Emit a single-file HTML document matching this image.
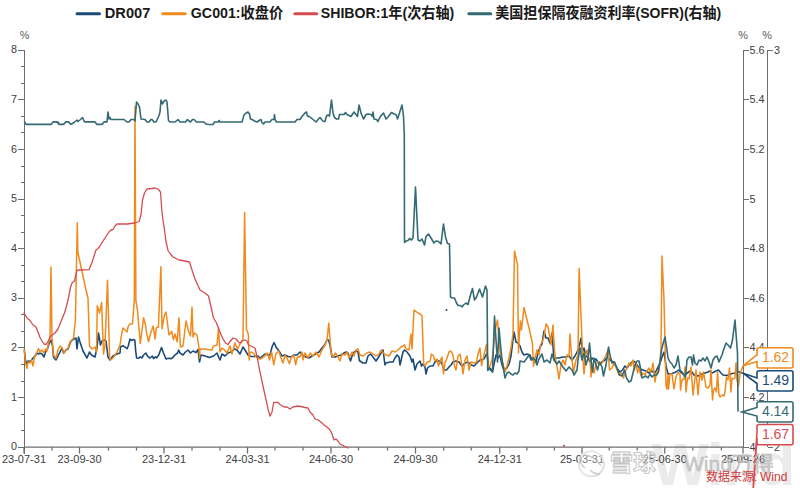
<!DOCTYPE html><html><head><meta charset="utf-8"><style>
html,body{margin:0;padding:0;background:#fff;width:800px;height:488px;overflow:hidden}
svg{position:absolute;left:0;top:0;display:block}
text{font-family:"Liberation Sans","Noto Sans CJK SC",sans-serif}
.ax{font-size:10.8px;fill:#404040}
.lg{font-size:15px;font-weight:bold;fill:#1a1a1a}
.cl{font-size:14px}
</style></head><body>
<svg width="800" height="488" viewBox="0 0 800 488">
<rect width="800" height="488" fill="#fff"/>
<text x="652" y="485" font-size="60" font-weight="bold" fill="#ebebeb" style="font-family:'Liberation Sans',sans-serif;letter-spacing:-1px">Wind</text>
<line x1="77.0" y1="13.8" x2="99.5" y2="13.8" stroke="#1a4b78" stroke-width="3" stroke-linecap="round"/>
<text class="lg" x="104.8" y="17.7" textLength="45.5" lengthAdjust="spacingAndGlyphs">DR007</text>
<line x1="162.8" y1="13.8" x2="185.2" y2="13.8" stroke="#f08a1c" stroke-width="3" stroke-linecap="round"/>
<text class="lg" x="190.8" y="17.7" textLength="92.5" lengthAdjust="spacingAndGlyphs">GC001:收盘价</text>
<line x1="294.8" y1="13.8" x2="316.7" y2="13.8" stroke="#d64c4e" stroke-width="3" stroke-linecap="round"/>
<text class="lg" x="320.8" y="17.7" textLength="133.5" lengthAdjust="spacingAndGlyphs">SHIBOR:1年(次右轴)</text>
<line x1="468.8" y1="13.8" x2="490.7" y2="13.8" stroke="#346a73" stroke-width="3" stroke-linecap="round"/>
<text class="lg" x="495.3" y="17.7" textLength="226" lengthAdjust="spacingAndGlyphs">美国担保隔夜融资利率(SOFR)(右轴)</text>
<text class="ax" x="24.5" y="39" text-anchor="middle" style="fill:#5a5a5a">%</text>
<text class="ax" x="743" y="39" text-anchor="middle" style="fill:#5a5a5a">%</text>
<text class="ax" x="767" y="39" text-anchor="middle" style="fill:#5a5a5a">%</text>
<g stroke="#6e6e6e" stroke-width="1" fill="none" shape-rendering="crispEdges">
<line x1="24" y1="50.2" x2="24" y2="453.5"/>
<line x1="17.5" y1="447.2" x2="24" y2="447.2"/>
<line x1="20.5" y1="430.7" x2="24" y2="430.7"/>
<line x1="20.5" y1="414.1" x2="24" y2="414.1"/>
<line x1="17.5" y1="397.6" x2="24" y2="397.6"/>
<line x1="20.5" y1="381.0" x2="24" y2="381.0"/>
<line x1="20.5" y1="364.5" x2="24" y2="364.5"/>
<line x1="17.5" y1="347.9" x2="24" y2="347.9"/>
<line x1="20.5" y1="331.4" x2="24" y2="331.4"/>
<line x1="20.5" y1="314.9" x2="24" y2="314.9"/>
<line x1="17.5" y1="298.3" x2="24" y2="298.3"/>
<line x1="20.5" y1="281.8" x2="24" y2="281.8"/>
<line x1="20.5" y1="265.2" x2="24" y2="265.2"/>
<line x1="17.5" y1="248.7" x2="24" y2="248.7"/>
<line x1="20.5" y1="232.2" x2="24" y2="232.2"/>
<line x1="20.5" y1="215.6" x2="24" y2="215.6"/>
<line x1="17.5" y1="199.1" x2="24" y2="199.1"/>
<line x1="20.5" y1="182.5" x2="24" y2="182.5"/>
<line x1="20.5" y1="166.0" x2="24" y2="166.0"/>
<line x1="17.5" y1="149.4" x2="24" y2="149.4"/>
<line x1="20.5" y1="132.9" x2="24" y2="132.9"/>
<line x1="20.5" y1="116.4" x2="24" y2="116.4"/>
<line x1="17.5" y1="99.8" x2="24" y2="99.8"/>
<line x1="20.5" y1="83.3" x2="24" y2="83.3"/>
<line x1="20.5" y1="66.7" x2="24" y2="66.7"/>
<line x1="17.5" y1="50.2" x2="24" y2="50.2"/>
</g>
<text class="ax" x="17" y="450.3" text-anchor="end">0</text>
<text class="ax" x="17" y="400.7" text-anchor="end">1</text>
<text class="ax" x="17" y="351.1" text-anchor="end">2</text>
<text class="ax" x="17" y="301.4" text-anchor="end">3</text>
<text class="ax" x="17" y="251.8" text-anchor="end">4</text>
<text class="ax" x="17" y="202.2" text-anchor="end">5</text>
<text class="ax" x="17" y="152.5" text-anchor="end">6</text>
<text class="ax" x="17" y="102.9" text-anchor="end">7</text>
<text class="ax" x="17" y="53.3" text-anchor="end">8</text>
<g stroke="#6e6e6e" stroke-width="1.3" fill="none">
<line x1="24" y1="447.2" x2="743.5" y2="447.2"/>
<line x1="24" y1="447.2" x2="24" y2="453.5"/>
<line x1="79.5" y1="447.2" x2="79.5" y2="453.5"/>
<line x1="164" y1="447.2" x2="164" y2="453.5"/>
<line x1="247.5" y1="447.2" x2="247.5" y2="453.5"/>
<line x1="331" y1="447.2" x2="331" y2="453.5"/>
<line x1="415.5" y1="447.2" x2="415.5" y2="453.5"/>
<line x1="499.75" y1="447.2" x2="499.75" y2="453.5"/>
<line x1="582" y1="447.2" x2="582" y2="453.5"/>
<line x1="664.75" y1="447.2" x2="664.75" y2="453.5"/>
<line x1="743" y1="447.2" x2="743" y2="453.5"/>
<line x1="52" y1="447.2" x2="52" y2="450.5"/>
<line x1="108.5" y1="447.2" x2="108.5" y2="450.5"/>
<line x1="136.5" y1="447.2" x2="136.5" y2="450.5"/>
<line x1="192" y1="447.2" x2="192" y2="450.5"/>
<line x1="220" y1="447.2" x2="220" y2="450.5"/>
<line x1="275" y1="447.2" x2="275" y2="450.5"/>
<line x1="303" y1="447.2" x2="303" y2="450.5"/>
<line x1="358.5" y1="447.2" x2="358.5" y2="450.5"/>
<line x1="387.5" y1="447.2" x2="387.5" y2="450.5"/>
<line x1="443.75" y1="447.2" x2="443.75" y2="450.5"/>
<line x1="471.25" y1="447.2" x2="471.25" y2="450.5"/>
<line x1="526.9" y1="447.2" x2="526.9" y2="450.5"/>
<line x1="554.4" y1="447.2" x2="554.4" y2="450.5"/>
<line x1="609.2" y1="447.2" x2="609.2" y2="450.5"/>
<line x1="637.2" y1="447.2" x2="637.2" y2="450.5"/>
<line x1="692.9" y1="447.2" x2="692.9" y2="450.5"/>
<line x1="721.4" y1="447.2" x2="721.4" y2="450.5"/>
</g>
<text class="ax" x="24" y="463" text-anchor="middle" style="font-size:11px">23-07-31</text>
<text class="ax" x="79.5" y="463" text-anchor="middle" style="font-size:11px">23-09-30</text>
<text class="ax" x="164" y="463" text-anchor="middle" style="font-size:11px">23-12-31</text>
<text class="ax" x="247.5" y="463" text-anchor="middle" style="font-size:11px">24-03-31</text>
<text class="ax" x="331" y="463" text-anchor="middle" style="font-size:11px">24-06-30</text>
<text class="ax" x="415.5" y="463" text-anchor="middle" style="font-size:11px">24-09-30</text>
<text class="ax" x="499.75" y="463" text-anchor="middle" style="font-size:11px">24-12-31</text>
<text class="ax" x="582" y="463" text-anchor="middle" style="font-size:11px">25-03-31</text>
<text class="ax" x="664.75" y="463" text-anchor="middle" style="font-size:11px">25-06-30</text>
<text class="ax" x="743" y="463" text-anchor="middle" style="font-size:11px">25-09-26</text>
<g stroke="#6e6e6e" stroke-width="1" fill="none" shape-rendering="crispEdges">
<line x1="743" y1="50.2" x2="743" y2="447.2"/>
<line x1="767.5" y1="50.2" x2="767.5" y2="447.2"/>
<line x1="743" y1="447.2" x2="748.5" y2="447.2"/>
<line x1="743" y1="397.6" x2="748.5" y2="397.6"/>
<line x1="743" y1="347.9" x2="748.5" y2="347.9"/>
<line x1="743" y1="298.3" x2="748.5" y2="298.3"/>
<line x1="743" y1="248.7" x2="748.5" y2="248.7"/>
<line x1="743" y1="199.1" x2="748.5" y2="199.1"/>
<line x1="743" y1="149.4" x2="748.5" y2="149.4"/>
<line x1="743" y1="99.8" x2="748.5" y2="99.8"/>
<line x1="743" y1="50.2" x2="748.5" y2="50.2"/>
<line x1="767.5" y1="50.2" x2="773" y2="50.2"/>
<line x1="767.5" y1="447.2" x2="773" y2="447.2"/>
</g>
<text class="ax" x="749.5" y="450.6">4</text>
<text class="ax" x="749.5" y="401.0">4.2</text>
<text class="ax" x="749.5" y="351.3">4.4</text>
<text class="ax" x="749.5" y="301.7">4.6</text>
<text class="ax" x="749.5" y="252.1">4.8</text>
<text class="ax" x="749.5" y="202.5">5</text>
<text class="ax" x="749.5" y="152.8">5.2</text>
<text class="ax" x="749.5" y="103.2">5.4</text>
<text class="ax" x="749.5" y="53.6">5.6</text>
<text class="ax" x="774" y="53.6">3</text>
<text class="ax" x="774" y="450.8">2</text>
<g fill="none" stroke-linejoin="round" stroke-linecap="round">
<polyline points="24.3,350 25.5,360 27,364 28,361 30,361.5 31.5,360 33,358 35,356 37,353 38.5,354 40,353 42,354 44,357 45.5,352 47,350 49,344 51,340 52.5,346 53.5,357 55,359 56,360 58,356 60,352 62,348 63.5,353 66,350 68,349 71,341 74,339 76,338 77,349 78.5,337 80,342 83,351 87,358 89.5,352 91.5,355 95,357 97,348 98.5,333 100.5,345 102,341 104.5,340 106,341 108,357 110,360 113,356 117,354 120,353 120.5,347 122.8,345.7 125,347 127,348.7 128.3,346 130,339 131.5,340.5 133,339.5 134.8,340 135.7,351 136.6,358 138.5,358.3 140.3,356.8 141.8,358 143.6,355 145.8,353 147.7,356.4 150,358 152.3,356 153.6,358.6 155.4,356.8 156.5,358 158.7,355 161.5,347.6 163.4,352.7 166,359 168.3,358.3 171.3,358.6 173.5,356.8 175.4,354.6 177.6,353 178.7,350 180,353 183,355 185.5,352 188,350 190.5,353 193,351 196,352.5 198,349.5 199.5,362 201,355 205,356 209.5,357.5 213.5,356 217,353 219,358 220,360 222,354 225,356 228,353 231,352 234.5,349 237,350 240,354 243,347 245,350 248,355 251,356.5 255,356.5 258,356 260,358 262.5,356 265,354 268,355 270,355 272,347 274,342.5 276,347 279,351 282,356 285,355 288,356.5 291,357 294,355 297,355 300,352 302.5,355 306,357 309,358 312,356 315.5,354 319,352 322,348 324.5,345 327,340 328.5,340 330,345 332,357 335,357 338,356 341,355 344,353 346,352 348,353 350.5,361 353,353 355.5,351 358,352 359.5,361 360,361 363,363 366,363 368,356 370.5,354 373,357 376,361 378,358 381,353 383,350 385,365 386,363 390,362 393,362 395,358 397,355 399,357 400,365 403,352 404.5,350 407,352 410,356 412,362 413,359 415,370 417,364 420,361 421.5,366 423,364 425,367 426,374 427.5,368 430,366 433,366 435,362 437,361 440,361 442,364 444,370 446.5,370 449,367 451,365 453,362 456,361 459,362 462,366 465,363 468,362 471,365 474,366 477,363 480,360 484,359 486,355 487,353 488.5,367 490.5,370 492.5,372 494,364 496,355 498,358 500,355 501.5,363 503,368 505,369 507,368 509,364 511,356 513,340 514,332 516,342 518,343 520,346 522,352 524,355 527,354 530,355 532,360 534,358 536,362 538,353 540,347 542,344 544,331 546,338 548,338 550,343 552,333 554,360 556,358 559,358 563,357 566,357 569,356 572,360 575,356 578,350 580,343 581,338 582.5,352 584,348 586,356 588,358 590,362 592,358 594,360 596,359 599,364 602,362 605,360 607.5,357 610,360 613,362 615,365 617.5,369 620,372 622.5,370 625,366 627,368 629,365 631,363 633,361 635,362 637,365 640,369 643,370 646,371 649,373 652,371 655,373 658,367 660,363 662,357 664,352 666,366 668,374 672,373.5 676,372 678.5,370 681,372.5 684,375 686,374 690,371 692,372 694,375 698,376 702,374 705,373 708,372 710,371 712,373 714,372 716,371 718.5,370 721,373 723,375 726,375.5 729,375 732,373.5 735,373 738,371.5 743,373.2" stroke="#1a4b78" stroke-width="1.6"/>
<polyline points="24.3,350 25.5,363 27,368.5 28,362 30,363 31.5,360 33,366 34.5,357 36,355 38.5,348.5 40,352 42,350 44,353 45.5,349 47,351 48.5,343 50,339 51,267 52,338 53.5,355 55,357 56,358 58,350 60,346 62,348 64,353 66,350 68,348 70,342 72,340 73.5,338 75.4,320 77.3,222.7 77.8,252 86,290 88,298 89.5,346 92,349 95,347 96.5,352 97.3,305.7 99.5,313 101.6,302.5 103.5,354 105,345 107.5,280.3 109.6,357 110.5,360 113,358 117,352 120,345 121.5,335 123,328 125,330 127,332 128.3,326 130,324 132.5,323.8 134.3,300 135,106.2 135.9,301 137.5,310 140.3,343.5 143.6,317.7 145.5,325 146.8,334 148.6,341.7 150.4,334 153.2,326 155,339 156.3,327.8 158.4,327 160.9,266.7 162,328.7 164.3,315.8 166,312 169,335 171.7,331.5 173.5,339.8 175,334 177.2,341.7 179,317.7 180.4,347 183,346 186,321 188.5,331 190.5,336 192,307 193,337 194.5,333 197,335 199,348 199.5,358 200,349 205,349 210,350 212,350 213.5,346 217,345 218.5,328 220,352 222,348 224.5,350 227,353 230,346 232,354 235,343 237.5,349 240,344 243,340 244.6,212.5 246.5,329.7 248.3,334 249.2,360 250,352.7 251.4,352 253.8,353.6 255.7,356.4 258,358 260.3,359 262,358 264,356.8 265.8,354.6 267.5,353 269.5,360 271.5,352 273.8,364.7 276,353.6 278.7,351 280.6,356.4 282.8,363 285.2,355.5 287,358 289.4,363.8 291.5,357 293.9,355.5 295.7,364.7 297,358 298.7,356.4 300,357 302,352 303,360 305,353 308,358 310,353 313,356 316,352 319,357 322,350 325,345 327,340 328.8,323 330,340 331.5,355 333,357 335.5,353 338,357 340,361 342,354 345,355 347,352 349,358 352,352 354,356 356,350 358,349 360,355 363,356 367,353 370,352 373,354 376,356 379,354 381,350 383,353 386,355 389,356 392,351 395,352 398,350 401,347 404.5,345 406,349 409,350 411,334 412,349 414,310 418,313 420,314 422,316 423.7,364 425,366 427,362 429,362 430,361 431.5,354 433.5,356 435,361 437,359 438.5,366 441,359 442,357 443.5,374 445,363 447,358 449,352 451,351 453,355 454.5,366 456,370 458,356 460,354 461.5,363 463,374 465,360 467,356 469,370 471,362 474,363 476.5,362 478,354 480,348 481.5,365.6 486.5,344.4 488.3,367.5 490,366 492,360 494,343 495.5,328 497.5,320 499,340 500,352 501.5,358 503,364 505,372 507,366 509,358 511,348 513,334 514.5,251 517.5,264.5 518.5,353 519.3,335 520.4,321 521.4,330 524,307.5 527,320 530,332 532.5,344 533.5,366 535,358 537,350 539,355 540.5,345 542,342 544,337 546,324 548,327 549.5,335 551,345 553,325 554.5,350 556,362 558,372 559,379 561,365 563,360 565,365 567,355 569,356 570,334 571.5,355 573.5,372 576,360 578,355 579.1,268.6 582,340 583,360 584,374 585.5,355 587,350 588.5,358 590,358 591,377 592.5,365 594,373 596,364 598,362 600,365 602,363 604,359 606,355 608,350 609.5,370 612,368 614.5,362 617,370 619,375 621.5,373 623.5,378 625,372 627,368 629,363 631,366 633,360 634.5,370 636,362 637.5,373 639,368 641,376 643,373 645,375 647,371 649,368 650.5,372 652,368 653,363 655,382 656.5,372 659,371 661,350 662,256 664,300 666,385 667,389 668,375 668.5,389 670,374 672,374 674,389 676,377 678,372.5 680,374 680.5,390 682,380 684,379 685,367 686,392 687.5,378 689,379 691,367 693,395 694.5,382 696,370 698,395 700,372 702,380 703.5,372 706,387 708,388 710,385 711,370 712.5,400 713.5,390 715,388 716.5,392 717.5,372 719,395 720,397 722,395 724,396 725,392 726.5,377 728,380 729.5,368 731,392 732,378 733.5,379 735,378 736,363 737,380 738.5,386 740,374 743,365.8" stroke="#f08a1c" stroke-width="1.5"/>
<polyline points="24,313 27,318 30,320.5 33,325 36,327 38,332 40,337.5 42,341 44,344 46,344.5 48,341.5 50,337 52,335 55,333 58,329 60,324 62,319 64.5,313 66.5,306 68,300 70.6,287 72,283 74.5,281 76.8,270.6 78,270 82,270 89,269.7 92.5,261 96,250 98,248.5 100,246 103,241 106,236.5 109,232 111,230 113,229.5 115,226 117,224 120,224 127,224 135,223 139,221.5 141,215 142.5,200 144.5,193 147,189 152,188.5 155,188 158,189 160.5,192 161.8,210 163,220 164.5,230 166,241.5 168,250.5 170,253.5 173,257 179,260 185,261 189.5,262 192,270 195,279 200,290 205,293 208.5,296 211,307 213.5,318 216.5,323 219.5,331 222.5,338 225.5,343 228,344.5 230.5,341 233,338 236,339 238.5,342 240,343 242,341 245,340 247,341 248.5,345 251,346 253,347 255,348 257.3,358 259.8,371 263,386 265.5,397.4 268,408.9 270,416.2 272,412 273.7,402.3 277.8,402.3 280.2,404.8 284.3,407 287,407 290,409 293,407 298,406 301,406.5 305,407.5 308,408 310,412 313,415 315,419 318,420 321,422 324,425 327,427 330,430 332,434 334,440 336,439 338,441 340,444 344,446 348,448" stroke="#d54d4f" stroke-width="1.3"/>
<polyline points="24.5,121.9 26,124.4 51,124.4 53,121.9 56.5,121.9 57.5,123 58,121.9 59,124.4 63.5,124.4 66,121.9 68.5,121.9 71,124.4 74,122.5 77,120 78,121.5 80.5,119.5 82.5,117.5 84.5,121.9 95,121.9 97,124.4 102,124.4 104,121.9 107,121.9 108,112 109,119 110,117.5 111,119.5 124,119.5 127,122 129,122 131,119.5 134,119.5 135,121 136.5,102 138,104 139.5,107 141,119 145,119.5 147,122 149,122 151,119.5 152,119.5 154,122 156,122 159,115.5 160,112 161,100 162.5,104 164,101 166,100 167,102 168.5,120.5 170,122 175,122 178,119.5 180,122 185.5,122 187.5,119.5 189,121 190.5,122 192.5,119.5 194,119.5 196.5,122 204,122 206,124 208.5,124.5 213,124.5 214.5,122 218,122 219,120.5 220,122 242,122 244,115 246,113 248,112 249.5,114 250.5,119 252,119.5 254.5,121 257,122 260,120 261,119.5 262,122.5 263.5,124 265,122 270,122 272,119.5 274,119.5 274.5,114.5 275,119.5 276.5,122 295,122 297,119.5 300,119.5 302,116.5 305,113 306.5,112 307.5,116 310,117 313,119.5 316,122 318,119.5 320,117.5 322,120 323.5,121.5 325,121.5 326.5,116 328,115 329.5,116 331.5,100 333,113 334.5,117.5 336.5,119 338.5,119 339.5,114.5 344,114.5 345.5,112.5 347,114.5 351,116.5 354,112 357.5,116.5 359,105 361,113 363.5,119 366,114.5 368,114 371,114.5 372.5,116.5 373,112 374,119 376.5,119.5 378,121.5 380,117 383.5,113 386,119 388,117 391.5,112.5 394,114 396,114.5 397.5,119 399.5,113 402,105 403.5,116 404.3,135 404.5,242.4 406.3,241 408,240.5 409.5,238.5 411.5,240 413,238 415.5,187 418,240 420,241 422,239 424.5,245 426,236.5 428.5,234 431,238 434,243 436,241 438.5,241.5 441,244 443.5,224 445.5,237 447.5,243.5 449.5,244 450.5,297 452.5,298 454.5,298 456.5,303 458,305.5 460.5,305.5 462,307 463.5,305 466,303 468,304.5 470.5,295 472.5,288.5 474.5,300 476.5,297 479.5,289 482.5,297 485.5,286 487,290 487.7,370.5 489.5,368 491,369 492.5,372 494.5,316 496,340 497.5,362 499,328 500.5,345 502,360 504,372 505,378 507,373 509,372 511,374 513,375 515,373 517,374 519,371 520,361 524,362 527,358 529,355 531,360 533,358 535,360 537,365 539,359 542,354 544,362 547,360 550,363 552,354 554,360 557,364 559,361 561,364 563,367 566,371 569,367 572,370 574,375 577,370 578,360 580,348 582,360 584,353 586,365 588,358 589.5,343 591,360 592.5,372 594,358 595.5,363 597.5,370 599.5,362 602,367 603.5,376 606,365 608.5,347 610,355 612,363 614.5,362 617,368 619.5,375 622,376 624.5,370 626.5,378 629,382 631,381 633,373 635,365 637,361 639,361 640.5,368 642,378 644,377 646,376 648,378 650,374 652,377 654,375 656.5,375 658,373 660,362 661.5,350 663,344 665,337 667,350 668,358 670,362 672,364 674,368 676,365 678,356 680,370 682,372 684,375 685.5,377 687,360 689,357 691,357 692.5,365 693.5,355 695,363 697,365 699,360 701,361 703,358 705,361 707,357 709,362 711,368 713,360 715,357 717,356 719,362 721,357 722,355 723.5,350 726,343 728,345 730.5,348 732.5,340 735,320 736.5,340 737.5,353 738,411" stroke="#346a73" stroke-width="1.6"/>
</g>
<circle cx="446.5" cy="310" r="1" fill="#1a4b78"/>
<circle cx="564" cy="445.8" r="1.1" fill="#d64c4e"/>
<path d="M759,347.8 H791 Q793,347.8 793,349.8 V366 Q793,368 791,368 H759 Q757,368 757,366 V361.5 L743.3,365.7 L757,354.9 V349.8 Q757,347.8 759,347.8 Z" fill="#fff" stroke="#f08a1c" stroke-width="1.6" stroke-linejoin="miter"/>
<text class="cl" x="775.5" y="361.9" text-anchor="middle" fill="#f08a1c">1.62</text>
<path d="M759,370.8 H791 Q793,370.8 793,372.8 V389 Q793,391 791,391 H759 Q757,391 757,389 V383.5 L743,373.2 L757,378 V372.8 Q757,370.8 759,370.8 Z" fill="#fff" stroke="#1a4b78" stroke-width="1.6" stroke-linejoin="miter"/>
<text class="cl" x="775.5" y="384.9" text-anchor="middle" fill="#1a4b78">1.49</text>
<path d="M759,401.8 H791 Q793,401.8 793,403.8 V420 Q793,422 791,422 H759 Q757,422 757,420 V416 L742,412 L757,407.5 V403.8 Q757,401.8 759,401.8 Z" fill="#fff" stroke="#346a73" stroke-width="1.6" stroke-linejoin="miter"/>
<text class="cl" x="775.5" y="415.9" text-anchor="middle" fill="#346a73">4.14</text>
<path d="M759,424.5 H791 Q793,424.5 793,426.5 V442.8 Q793,444.8 791,444.8 H759 Q757,444.8 757,442.8 V438 L751,520 L757,432 V426.5 Q757,424.5 759,424.5 Z" fill="#fff" stroke="#d64c4e" stroke-width="1.6" stroke-linejoin="miter"/>
<text class="cl" x="775.5" y="438.6" text-anchor="middle" fill="#d64c4e">1.67</text>
<g opacity="0.9">
<circle cx="591.5" cy="464" r="12.5" fill="none" stroke="#bdbdbd" stroke-width="1.2"/>
<circle cx="591" cy="463.5" r="12.5" fill="rgba(255,255,255,0.35)" stroke="#e6e6e6" stroke-width="1.4"/>
<path d="M580,456 Q579,464 585,468 M590,470 Q594,474 600,474 M584,455 Q595,456 601,466" stroke="#c4c4c4" stroke-width="1.3" fill="none"/>
<text x="610" y="471" font-size="23" fill="rgba(255,255,255,0.55)" stroke="#bdbdbd" stroke-width="0.9" style="font-family:'Liberation Sans','Noto Sans CJK SC',sans-serif;font-weight:bold">雪球</text>
<text x="660" y="469" font-size="16" fill="#c0c0c0">·</text>
<text x="684" y="471" font-size="21" fill="#c6c6c6" stroke="#b0b0b0" stroke-width="0.4" style="font-family:'Liberation Sans','Noto Sans CJK SC',sans-serif">Wind万得</text>
</g>
<text font-size="12" fill="#d03a3a" style="font-family:'Liberation Sans','Noto Sans CJK SC',sans-serif"><tspan x="706" y="481">数据来源</tspan><tspan x="754" y="481">:</tspan><tspan x="760" y="481">Wind</tspan></text>
</svg></body></html>
